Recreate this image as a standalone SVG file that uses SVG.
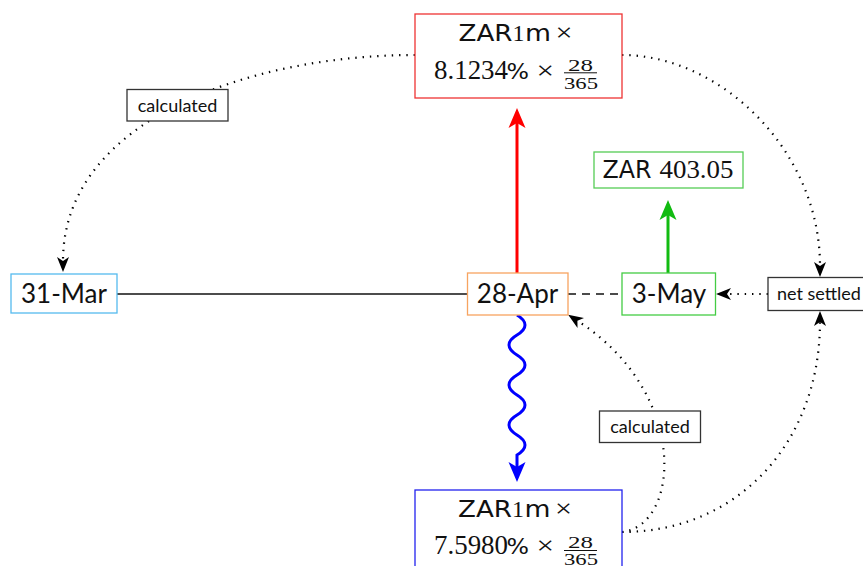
<svg xmlns="http://www.w3.org/2000/svg" width="863" height="566" viewBox="0 0 863 566">
  <defs>
    <style>
      .box { fill: #ffffff; stroke-width: 1.3; }
      .lbl { fill: #ffffff; stroke: #333333; stroke-width: 1.3; }
      .lato { font-family: Lato, "Liberation Sans", sans-serif; fill: #111111; }
      .sans { font-family: "DejaVu Sans", "Liberation Sans", sans-serif; fill: #111111; }
      .serif { font-family: "Liberation Serif", "DejaVu Serif", serif; fill: #111111; }
      .dot { fill: none; stroke: #000000; stroke-width: 2.2; stroke-dasharray: 1.4 5.9; }
    </style>
    <marker id="stealth" viewBox="-1 -7 17 14" refX="4" refY="0" markerWidth="17" markerHeight="14" markerUnits="userSpaceOnUse" orient="auto">
      <path d="M0,-6 L15,0 L0,6 L4,0 Z" fill="#000000"/>
    </marker>
    <marker id="headRed" viewBox="-1 -10 22 20" refX="5" refY="0" markerWidth="22" markerHeight="20" markerUnits="userSpaceOnUse" orient="auto">
      <path d="M0,-8.5 L20,0 L0,8.5 L5,0 Z" fill="#ff0000"/>
    </marker>
    <marker id="headGreen" viewBox="-1 -10 22 20" refX="5" refY="0" markerWidth="22" markerHeight="20" markerUnits="userSpaceOnUse" orient="auto">
      <path d="M0,-8.5 L20,0 L0,8.5 L5,0 Z" fill="#11bb11"/>
    </marker>
    <marker id="headBlue" viewBox="-1 -10 22 20" refX="5" refY="0" markerWidth="22" markerHeight="20" markerUnits="userSpaceOnUse" orient="auto">
      <path d="M0,-8.5 L20,0 L0,8.5 L5,0 Z" fill="#0000ff"/>
    </marker>
  </defs>

  <!-- connectors -->
  <g id="connectors">
    <line x1="117" y1="294" x2="467" y2="294" stroke="#111111" stroke-width="1.3"/>
    <line x1="568" y1="294" x2="622" y2="294" stroke="#111111" stroke-width="1.3" stroke-dasharray="8 6"/>
    <line x1="517" y1="273" x2="517" y2="123" stroke="#ff0000" stroke-width="3" marker-end="url(#headRed)"/>
    <line x1="668" y1="273" x2="668" y2="215" stroke="#11bb11" stroke-width="3" marker-end="url(#headGreen)"/>
    <path d="M517,315 C527.67,321.4 527.67,328.6 517,335 C506.33,341.4 506.33,348.6 517,355 C527.67,361.4 527.67,368.6 517,375 C506.33,381.4 506.33,388.6 517,395 C527.67,401.4 527.67,408.6 517,415 C506.33,421.4 506.33,428.6 517,435 C527.67,441.4 527.67,448.6 517,455 L517,467" fill="none" stroke="#0000ff" stroke-width="3" marker-end="url(#headBlue)"/>
    <path class="dot" d="M415,55 C250,55 63,120 63,261" marker-end="url(#stealth)"/>
    <path class="dot" d="M622,55 C720,55 820,150 820,266" marker-end="url(#stealth)"/>
    <path class="dot" d="M622,532 C740,532 820,440 820,322" marker-end="url(#stealth)"/>
    <path class="dot" d="M622,532 C680,526 690,393 577.4,320.8" marker-end="url(#stealth)"/>
    <line class="dot" x1="768" y1="294" x2="727" y2="294" marker-end="url(#stealth)"/>
  </g>

  <!-- edge labels -->
  <g id="label-calc-top">
    <rect class="lbl" x="127" y="89.5" width="101" height="31.5"/>
    <text class="lato" x="177.5" y="112" font-size="18" text-anchor="middle">calculated</text>
  </g>
  <g id="label-calc-bottom">
    <rect class="lbl" x="599.5" y="411" width="101" height="31.5"/>
    <text class="lato" x="650" y="433" font-size="18" text-anchor="middle">calculated</text>
  </g>
  <g id="net-settled">
    <rect class="lbl" x="768" y="277.5" width="120" height="33"/>
    <text class="lato" x="777" y="300" font-size="18">net settled</text>
  </g>

  <!-- date nodes -->
  <g id="mar31">
    <rect class="box" x="11" y="274" width="106" height="39" stroke="#55bbee"/>
    <text class="lato" x="64" y="303" font-size="26" text-anchor="middle">31-Mar</text>
  </g>
  <g id="apr28">
    <rect class="box" x="467.5" y="273" width="100.5" height="42" stroke="#f7a460"/>
    <text class="lato" x="517.5" y="303" font-size="26" text-anchor="middle">28-Apr</text>
  </g>
  <g id="may3">
    <rect class="box" x="622" y="273" width="93.5" height="42" stroke="#44cc44"/>
    <text class="lato" x="669" y="303" font-size="26" text-anchor="middle">3-May</text>
  </g>

  <!-- fixed leg cash flow -->
  <g id="fixed-leg">
    <rect class="box" x="415" y="14" width="207" height="84" stroke="#ee3333"/>
    <text class="sans" x="458.5" y="41" font-size="23" textLength="54" lengthAdjust="spacingAndGlyphs">ZAR</text>
    <text class="serif" x="512.5" y="41" font-size="24" textLength="12" lengthAdjust="spacingAndGlyphs">1</text>
    <text class="sans" x="525" y="41" font-size="23" textLength="26" lengthAdjust="spacingAndGlyphs">m</text>
    <text class="serif" x="555.5" y="41" font-size="25" textLength="17" lengthAdjust="spacingAndGlyphs">×</text>
    <text class="serif" x="434" y="78.5" font-size="27" textLength="74" lengthAdjust="spacingAndGlyphs">8.1234</text>
    <text class="sans" x="506.5" y="78.5" font-size="22" textLength="22.5" lengthAdjust="spacingAndGlyphs">%</text>
    <text class="serif" x="536.5" y="78.5" font-size="25" textLength="17.5" lengthAdjust="spacingAndGlyphs">×</text>
    <text class="serif" x="568" y="70.5" font-size="16" textLength="25" lengthAdjust="spacingAndGlyphs">28</text>
    <line x1="564" y1="72.8" x2="597" y2="72.8" stroke="#111111" stroke-width="1"/>
    <text class="serif" x="564" y="88.5" font-size="16" textLength="34" lengthAdjust="spacingAndGlyphs">365</text>
  </g>

  <!-- floating leg cash flow -->
  <g id="float-leg">
    <rect class="box" x="415" y="490" width="207" height="84" stroke="#2222ee"/>
    <text class="sans" x="458" y="517" font-size="23" textLength="54" lengthAdjust="spacingAndGlyphs">ZAR</text>
    <text class="serif" x="512" y="517" font-size="24" textLength="12" lengthAdjust="spacingAndGlyphs">1</text>
    <text class="sans" x="524.5" y="517" font-size="23" textLength="26" lengthAdjust="spacingAndGlyphs">m</text>
    <text class="serif" x="555" y="517" font-size="25" textLength="17" lengthAdjust="spacingAndGlyphs">×</text>
    <text class="serif" x="434" y="554" font-size="27" textLength="74" lengthAdjust="spacingAndGlyphs">7.5980</text>
    <text class="sans" x="506.5" y="554" font-size="22" textLength="22.5" lengthAdjust="spacingAndGlyphs">%</text>
    <text class="serif" x="536.5" y="554" font-size="25" textLength="17.5" lengthAdjust="spacingAndGlyphs">×</text>
    <text class="serif" x="568" y="547.8" font-size="16" textLength="25" lengthAdjust="spacingAndGlyphs">28</text>
    <line x1="564" y1="550.5" x2="597" y2="550.5" stroke="#111111" stroke-width="1"/>
    <text class="serif" x="564" y="565" font-size="16" textLength="34" lengthAdjust="spacingAndGlyphs">365</text>
  </g>

  <!-- settled amount -->
  <g id="net-amount">
    <rect class="box" x="594" y="152" width="149" height="36" stroke="#55cc55"/>
    <text class="sans" x="602.5" y="177.5" font-size="24" textLength="49" lengthAdjust="spacingAndGlyphs">ZAR</text>
    <text class="serif" x="659.5" y="177.5" font-size="25" textLength="74" lengthAdjust="spacingAndGlyphs">403.05</text>
  </g>
</svg>
